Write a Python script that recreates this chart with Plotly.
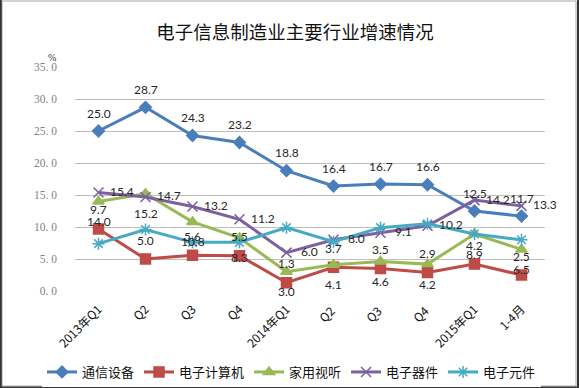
import plotly.graph_objects as go

categories = ["2013年Q1", "Q2", "Q3", "Q4", "2014年Q1", "Q2 ", "Q3 ", "Q4 ", "2015年Q1", "1-4月"]
tongxin = [25.0, 28.7, 24.3, 23.2, 18.8, 16.4, 16.7, 16.6, 12.5, 11.7]
jisuanji = [9.7, 5.0, 5.6, 5.5, 1.3, 3.7, 3.5, 2.9, 4.2, 2.5]
shiting = [14.0, 15.2, 10.8, 8.3, 3.0, 4.1, 4.6, 4.2, 8.9, 6.5]
qijian = [15.4, 14.7, 13.2, 11.2, 6.0, 8.0, 9.1, 10.2, 14.2, 13.3]
yuanjian = [7.4, 9.6, 7.6, 7.6, 9.9, 7.7, 9.9, 10.5, 8.9, 8.0]
y_ticks = [0, 5, 10, 15, 20, 25, 30, 35]
y_ticktext = [f"{v:.1f}".replace(".", ". ") for v in y_ticks]

# name, values, color, symbol, size, show labels, label x/y shift (px)
series = [
    ("通信设备", tongxin, "#4A7EBB", "diamond", 9, True, 0, 18),
    ("电子计算机", jisuanji, "#BE4B48", "square", 10, True, 0, 19),
    ("家用视听", shiting, "#98B954", "triangle-up", 10, True, 0, -20),
    ("电子器件", qijian, "#7D60A0", "x-thin-open", 10, True, 23, 1),
    ("电子元件", yuanjian, "#46AAC5", "asterisk-open", 10, False, 0, 0),
]

fig = go.Figure()
x_idx = list(range(len(categories)))
for name, vals, color, sym, size, show, xs, ys in series:
    fig.add_trace(go.Scatter(
        x=x_idx, y=vals, name=name, mode="lines+markers",
        line=dict(color=color, width=3),
        marker=dict(symbol=sym, size=size, color=color,
                    line=dict(color=color, width=1.5)),
        cliponaxis=False,
    ))
    if show:
        for xi, v in zip(x_idx, vals):
            fig.add_annotation(x=xi, y=v, text=f"{v:.1f}", showarrow=False,
                               xshift=xs, yshift=ys,
                               font=dict(family="Lato, Liberation Sans, sans-serif",
                                         size=12, color="#262626"))

L, R, T, B = 75, 34, 67, 97
W, H = 579, 388
pw, ph = W - L - R, H - T - B

def px_x(p):
    return (p - L) / pw

def px_y(p):
    return (H - B - p) / ph

fig.add_shape(type="rect", xref="paper", yref="paper",
              x0=px_x(2), x1=px_x(576), y0=px_y(1), y1=px_y(386),
              line=dict(color="#A6A6A6", width=1), fillcolor="rgba(0,0,0,0)")
for x0, y0, x1, y1 in [(0.8, 0, 0.8, 388), (578, 0, 578, 388), (0, 387.5, 579, 387.5)]:
    fig.add_shape(type="line", xref="paper", yref="paper",
                  x0=px_x(x0), x1=px_x(x1), y0=px_y(y0), y1=px_y(y1),
                  line=dict(color="#333333", width=2))

fig.update_layout(
    width=W, height=H,
    margin=dict(l=L, r=R, t=T, b=B, autoexpand=False),
    paper_bgcolor="white", plot_bgcolor="white",
    title=dict(text="电子信息制造业主要行业增速情况", x=px_x(295), xanchor="center",
               xref="paper", y=1 - 33 / H, yanchor="middle",
               font=dict(family="Noto Sans CJK SC", size=18.5, color="#111111")),
    showlegend=True,
    legend=dict(orientation="h", x=px_x(42), xanchor="left", y=px_y(357), yanchor="top",
                font=dict(family="Noto Sans CJK SC", size=13, color="#111111"),
                itemwidth=30, tracegroupgap=0),
    xaxis=dict(tickmode="array", tickvals=x_idx, ticktext=categories,
               range=[-0.5, len(categories) - 0.5], tickangle=-45, automargin=False,
               showgrid=False, showline=False, zeroline=False, ticklabelstandoff=8,
               tickfont=dict(family="Noto Sans CJK SC", size=12, color="#111111")),
    yaxis=dict(range=[0, 35], tickvals=y_ticks, ticktext=y_ticktext, automargin=False,
               showgrid=True, gridcolor="#BFBFBF", gridwidth=1,
               zeroline=False, showline=False, ticklabelstandoff=17,
               tickfont=dict(family="Liberation Serif", size=11.5, color="#7F7F7F")),
)

fig.add_annotation(text="%", xref="paper", yref="paper", x=px_x(46), y=px_y(50),
                   showarrow=False, font=dict(family="Liberation Serif", size=10, color="#333333"))

fig.write_html("out.html", config={"displayModeBar": False},
               post_script="document.body.style.margin='0';document.body.style.padding='0';document.body.style.overflow='hidden';")
